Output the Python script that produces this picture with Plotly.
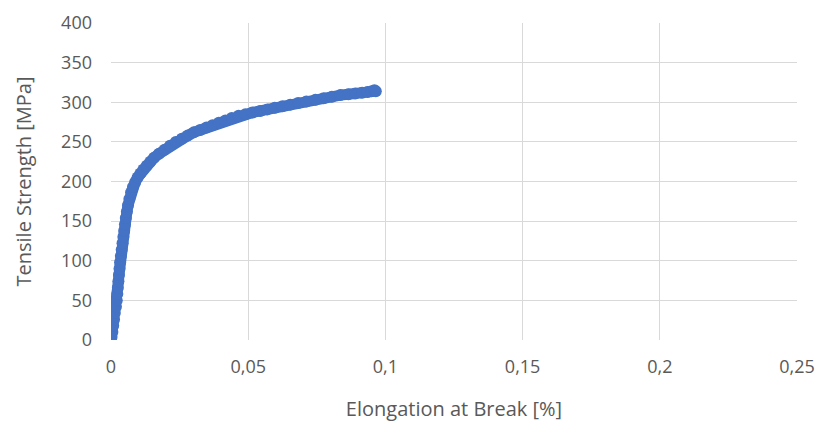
import plotly.graph_objects as go

# Stress-strain measurements
elongation = [
    0.0000, 0.0002, 0.0005, 0.0008, 0.0011, 0.0014, 0.0018, 0.0021, 0.0023, 0.0025,
    0.0027, 0.0029, 0.0031, 0.0033, 0.0036, 0.0039, 0.0042, 0.0045, 0.0048, 0.0051,
    0.0054, 0.0058, 0.0062, 0.0067, 0.0073, 0.0080, 0.0088, 0.0097, 0.0107, 0.0118,
    0.0130, 0.0143, 0.0157, 0.0175, 0.0195, 0.0215, 0.0236, 0.0258, 0.0280, 0.0302,
    0.0325, 0.0348, 0.0370, 0.0393, 0.0417, 0.0440, 0.0465, 0.0490, 0.0515, 0.0544,
    0.0570, 0.0597, 0.0625, 0.0653, 0.0682, 0.0712, 0.0745, 0.0775, 0.0805, 0.0836,
    0.0865, 0.0890, 0.0915, 0.0935, 0.0950, 0.0960, 0.0965,
]
strength = [
    0, 4, 10, 18, 26, 34, 42, 50, 58, 66,
    74, 82, 90, 98, 106, 114, 122, 130, 138, 146,
    154, 162, 170, 178, 186, 193, 199, 205, 210, 215,
    220, 225, 230, 235, 240, 245, 250, 254, 258, 262,
    265, 268, 271, 274, 277, 280, 283, 285, 287, 289,
    291, 293, 295, 297, 299, 301, 303, 305, 307, 309,
    310, 311, 312, 313, 314, 315, 314,
]

x_ticks = [0, 0.05, 0.1, 0.15, 0.2, 0.25]
y_ticks = [0, 50, 100, 150, 200, 250, 300, 350, 400]

font_family = "Open Sans, DejaVu Sans, sans-serif"
text_gray = "#595959"
grid_gray = "#D9D9D9"
series_blue = "#4472C4"

fig = go.Figure(
    go.Scatter(
        x=elongation,
        y=strength,
        mode="lines+markers",
        line=dict(color=series_blue, width=11),
        marker=dict(size=12, color=series_blue, line=dict(width=0)),
        showlegend=False,
        hoverinfo="x+y",
    )
)

fig.update_layout(
    width=817,
    height=425,
    margin=dict(l=111, r=20, t=23, b=85),
    paper_bgcolor="white",
    plot_bgcolor="white",
    separators=",.",
    font=dict(family=font_family, size=18, color=text_gray),
)

fig.update_xaxes(
    range=[0, 0.25],
    tickvals=x_ticks,
    showgrid=True,
    gridcolor=grid_gray,
    gridwidth=1,
    zeroline=False,
    showline=False,
    ticks="",
    automargin=False,
    ticklabelstandoff=14,
    tickfont=dict(size=18, color=text_gray),
    title=dict(text="Elongation at Break [%]", font=dict(size=20, color=text_gray), standoff=24),
)
fig.update_yaxes(
    range=[0, 400],
    tickvals=y_ticks,
    showgrid=True,
    gridcolor=grid_gray,
    gridwidth=1,
    zeroline=False,
    showline=False,
    ticks="",
    automargin=False,
    ticklabelstandoff=18,
    tickfont=dict(size=18, color=text_gray),
    title=dict(text="Tensile Strength [MPa]", font=dict(size=20, color=text_gray), standoff=24),
)

fig.write_html("out.html")
